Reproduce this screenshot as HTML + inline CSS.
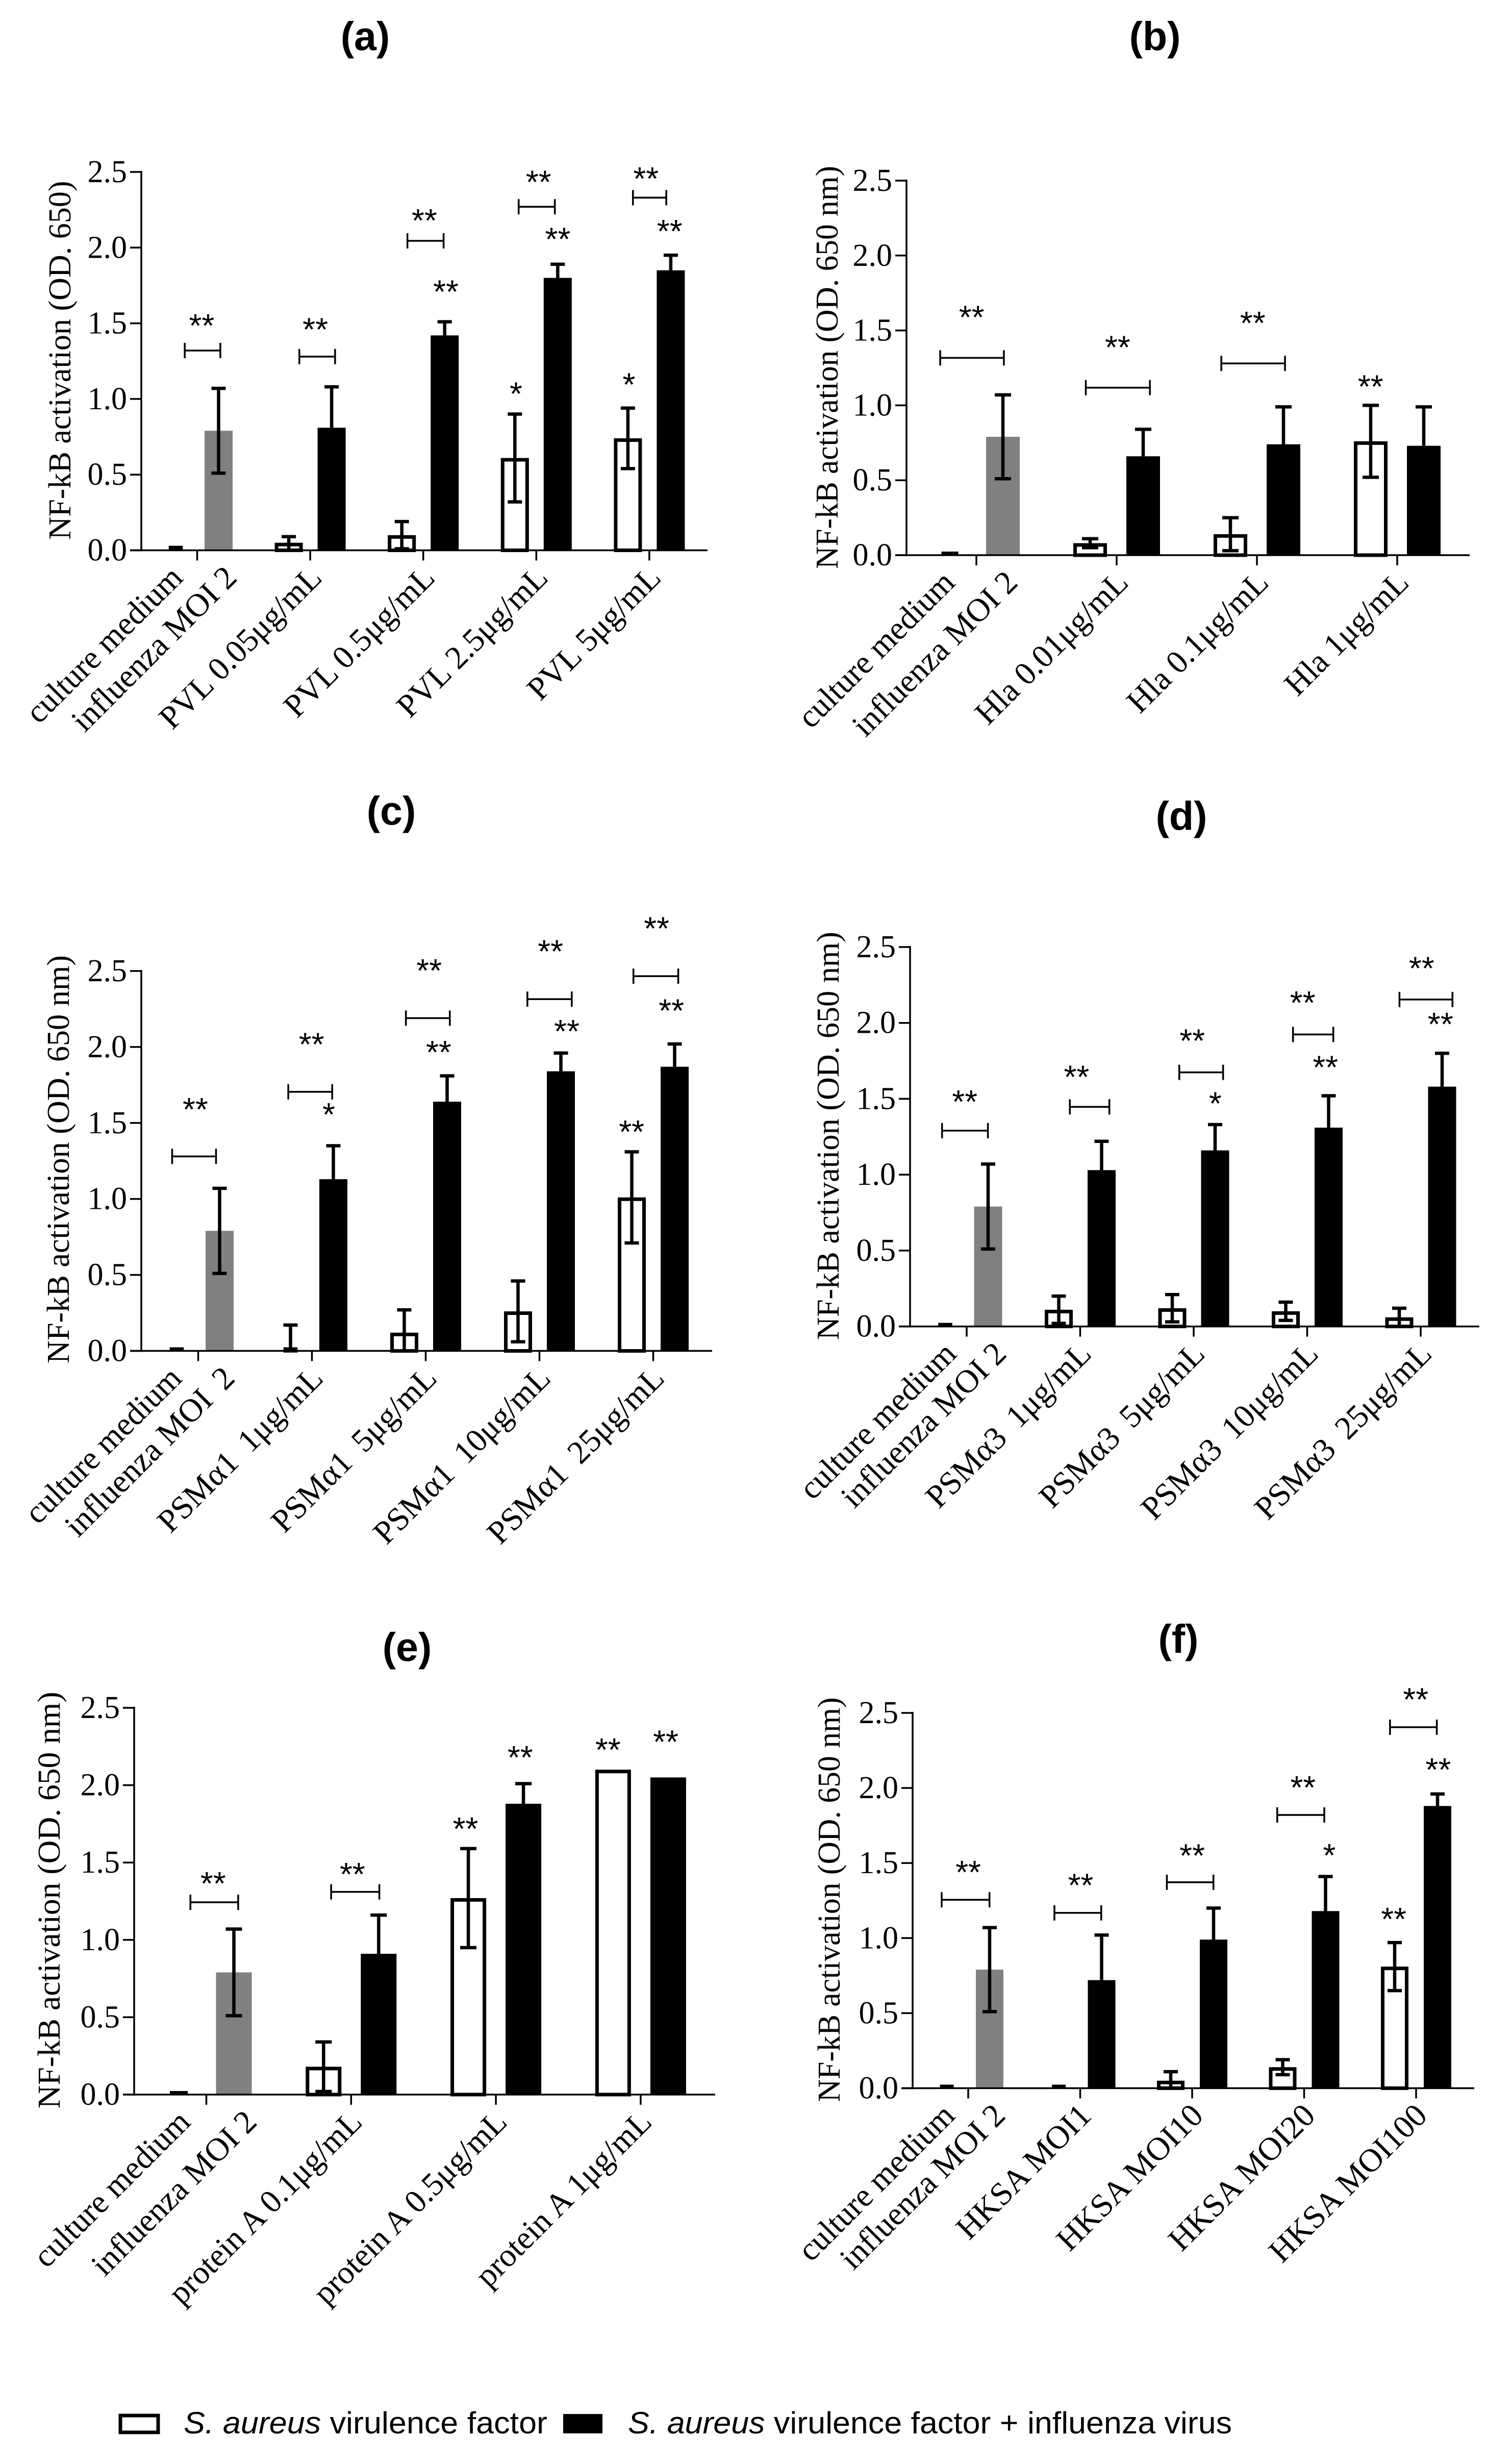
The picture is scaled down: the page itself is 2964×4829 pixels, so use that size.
<!DOCTYPE html>
<html lang="en">
<head>
<meta charset="utf-8">
<title>NF-kB activation by S. aureus virulence factors and influenza virus</title>
<style>
html,body{margin:0;padding:0;background:#fff;}
svg{display:block;}
</style>
</head>
<body>
<svg id="figure" xmlns="http://www.w3.org/2000/svg" width="2964" height="4829" viewBox="0 0 2964 4829"></svg>
<script>
// Shared axis ticks
const yTicks = [0, 0.5, 1.0, 1.5, 2.0, 2.5];
const yTickLabels = ['0.0', '0.5', '1.0', '1.5', '2.0', '2.5'];

// Panel (a)
const aLabels = ['culture medium', 'influenza MOI 2', 'PVL 0.05μg/mL', 'PVL 0.5μg/mL', 'PVL 2.5μg/mL', 'PVL 5μg/mL'];
const aWhite = [0.03, 0.05, 0.10, 0.61, 0.74];
const aWhiteLow = [null, 0.00, 0.01, 0.32, 0.54];
const aWhiteHigh = [null, 0.09, 0.19, 0.90, 0.94];
const aBlack = [0.79, 0.81, 1.42, 1.80, 1.85];
const aBlackLow = [0.51, null, null, null, null];
const aBlackHigh = [1.07, 1.08, 1.51, 1.89, 1.95];
const aBrackets = [[-0.11, 0.205, 1.32], [0.904, 1.22, 1.28], [1.86, 2.18, 2.045], [2.844, 3.164, 2.27], [3.855, 4.15, 2.33]];
const aStars = [[0.04, 1.516, '**'], [1.045, 1.49, '**'], [2.01, 2.21, '**'], [2.2, 1.74, '**'], [3.02, 2.465, '**'], [3.19, 2.087, '**'], [3.97, 2.487, '**'], [4.18, 2.14, '**'], [2.82, 1.065, '*'], [3.82, 1.126, '*']];

// Panel (b)
const bLabels = ['culture medium', 'influenza MOI 2', 'Hla 0.01μg/mL', 'Hla 0.1μg/mL', 'Hla 1μg/mL'];
const bWhite = [0.02, 0.08, 0.14, 0.76];
const bWhiteLow = [null, 0.05, 0.03, 0.52];
const bWhiteHigh = [null, 0.11, 0.25, 1.00];
const bBlack = [0.79, 0.66, 0.74, 0.73];
const bBlackLow = [0.51, null, null, null];
const bBlackHigh = [1.07, 0.84, 0.99, 0.99];
const bBrackets = [[-0.258, 0.196, 1.317], [0.78, 1.237, 1.118], [1.746, 2.2, 1.28]];
const bStars = [[-0.034, 1.62, '**'], [1.007, 1.418, '**'], [1.97, 1.58, '**'], [2.81, 1.157, '**']];

// Panel (c)
const cLabels = ['culture medium', 'influenza MOI\u00a0\u20092', 'PSMα1\u00a0\u20091μg/mL', 'PSMα1\u00a0\u20095μg/mL', 'PSMα1\u00a0\u200910μg/mL', 'PSMα1\u00a0\u200925μg/mL'];
const cWhite = [0.02, 0.00, 0.12, 0.26, 1.01];
const cWhiteLow = [null, 0.00, 0.00, 0.06, 0.71];
const cWhiteHigh = [null, 0.17, 0.27, 0.46, 1.31];
const cBlack = [0.79, 1.13, 1.64, 1.84, 1.87];
const cBlackLow = [0.51, null, null, null, null];
const cBlackHigh = [1.07, 1.35, 1.81, 1.96, 2.02];
const cBrackets = [[-0.229, 0.157, 1.28], [0.792, 1.178, 1.705], [1.826, 2.212, 2.19], [2.894, 3.284, 2.315], [3.826, 4.22, 2.466]];
const cStars = [[-0.025, 1.62, '**'], [0.996, 2.048, '**'], [1.148, 1.586, '*'], [2.03, 2.534, '**'], [2.114, 1.997, '**'], [3.097, 2.66, '**'], [3.24, 2.134, '**'], [4.03, 2.81, '**'], [4.16, 2.27, '**'], [3.81, 1.473, '**']];

// Panel (d)
const dLabels = ['culture medium', 'influenza MOI 2', 'PSMα3\u00a0\u20091μg/mL', 'PSMα3\u00a0\u20095μg/mL', 'PSMα3\u00a0\u200910μg/mL', 'PSMα3\u00a0\u200925μg/mL'];
const dWhite = [0.01, 0.11, 0.12, 0.10, 0.06];
const dWhiteLow = [null, 0.02, 0.03, 0.04, 0.00];
const dWhiteHigh = [null, 0.20, 0.21, 0.16, 0.12];
const dBlack = [0.79, 1.03, 1.16, 1.31, 1.58];
const dBlackLow = [0.51, null, null, null, null];
const dBlackHigh = [1.07, 1.22, 1.33, 1.52, 1.80];
const dBrackets = [[-0.217, 0.187, 1.29], [0.909, 1.257, 1.447], [1.873, 2.259, 1.674], [2.875, 3.23, 1.924], [3.813, 4.28, 2.154]];
const dStars = [[-0.017, 1.512, '**'], [0.968, 1.674, '**'], [1.987, 1.914, '**'], [2.19, 1.5, '*'], [2.96, 2.164, '**'], [3.16, 1.739, '**'], [4.008, 2.39, '**'], [4.174, 2.023, '**']];

// Panel (e)
const eLabels = ['culture medium', 'influenza MOI 2', 'protein A 0.1μg/mL', 'protein A 0.5μg/mL', 'protein A 1μg/mL'];
const eWhite = [0.02, 0.18, 1.27, 2.10];
const eWhiteLow = [null, 0.02, 0.95, null];
const eWhiteHigh = [null, 0.34, 1.59, null];
const eBlack = [0.79, 0.91, 1.88, 2.05];
const eBlackLow = [0.51, null, null, null];
const eBlackHigh = [1.07, 1.16, 2.01, null];
const eBrackets = [[-0.11, 0.22, 1.243], [0.862, 1.195, 1.31]];
const eStars = [[0.047, 1.395, '**'], [1.009, 1.455, '**'], [1.79, 1.748, '**'], [2.168, 2.21, '**'], [2.774, 2.26, '**'], [3.173, 2.31, '**']];

// Panel (f)
const fLabels = ['culture medium', 'influenza MOI 2', 'HKSA MOI1', 'HKSA MOI10', 'HKSA MOI20', 'HKSA MOI100'];
const fWhite = [0.01, 0.01, 0.05, 0.14, 0.81];
const fWhiteLow = [null, null, 0.00, 0.09, 0.65];
const fWhiteHigh = [null, null, 0.11, 0.19, 0.97];
const fBlack = [0.79, 0.72, 0.99, 1.18, 1.88];
const fBlackLow = [0.51, null, null, null, null];
const fBlackHigh = [1.07, 1.02, 1.20, 1.41, 1.96];
const fBrackets = [[-0.237, 0.19, 1.255], [0.77, 1.188, 1.168], [1.774, 2.19, 1.372], [2.76, 3.18, 1.82], [3.767, 4.185, 2.405]];
const fStars = [[0, 1.47, '**'], [1.004, 1.383, '**'], [2.0, 1.58, '**'], [2.99, 2.034, '**'], [3.225, 1.583, '*'], [3.996, 2.62, '**'], [4.198, 2.154, '**'], [3.8, 1.157, '**']];

const SVGNS = 'http://www.w3.org/2000/svg';
const figure = document.getElementById('figure');

function el(parent, tag, attrs, text) {
  const node = document.createElementNS(SVGNS, tag);
  for (const k in attrs) node.setAttribute(k, attrs[k]);
  if (text !== undefined) node.textContent = text;
  parent.appendChild(node);
  return node;
}

function drawPanel(p) {
  const g = el(figure, 'g', {});
  
  

  const xScale = function (v) { return p.tick0 + v * p.unit; };
  const yScale = function (v) { return p.base - v * (p.base - p.top) / 2.5; };

  const title = el(g, 'text', {x: p.titleX, y: p.titleY, 'text-anchor': 'middle', 'font-family': '"Liberation Sans", sans-serif', 'font-weight': 'bold', 'font-size': 79}, '(' + p.id + ')');
  
  

  const yTitle = el(g, 'text', {transform: 'translate(' + p.ytX + ' ' + p.ytY + ') rotate(-90)', 'text-anchor': 'middle', 'font-family': '"Liberation Serif", serif', 'font-size': 62, textLength: p.ytLen, lengthAdjust: 'spacingAndGlyphs'}, p.yTitle);
  
  

  // bars
  const count = p.white.length;
  for (let i = 0; i < count; i++) {
    const cx = xScale(i) - p.off;
    const v = p.white[i];
    if (v < 0.035) {
      const h = Math.max(yScale(0) - yScale(v), 7);
      const thin = el(g, 'rect', {x: cx - p.barW * 0.25, y: yScale(0) - h, width: p.barW * 0.5, height: h, fill: '#000'});
      
      
    } else {
      const box = el(g, 'rect', {x: cx - p.barW / 2 + 3.5, y: yScale(v) + 3.5, width: p.barW - 7, height: Math.max(yScale(0) - yScale(v) - 3.5, 1), fill: '#fff', stroke: '#000', 'stroke-width': 7});
      
      
    }
    const hi = p.whiteHigh[i];
    const lo = p.whiteLow[i];
    if (hi !== null) {
      drawError(g, cx, yScale(hi), yScale(lo === null ? v : lo), lo !== null, p.cap);
    }
  }
  for (let i = 0; i < count; i++) {
    const cx = xScale(i) + p.off;
    const v = p.black[i];
    const bar = el(g, 'rect', {x: cx - p.barW / 2, y: yScale(v), width: p.barW, height: yScale(0) - yScale(v), fill: i === 0 ? '#808080' : '#000'});
    
    
    const hi = p.blackHigh[i];
    const lo = p.blackLow[i];
    if (hi !== null) {
      drawError(g, cx, yScale(hi), yScale(lo === null ? v : lo), lo !== null, p.cap);
    }
  }

  // axes
  const yAxis = el(g, 'line', {x1: p.axisX, x2: p.axisX, y1: yScale(2.5) - 2, y2: yScale(0) + 2, stroke: '#000', 'stroke-width': 3.5});
  
  
  const xAxis = el(g, 'line', {x1: p.axisX - 22, x2: p.axisEnd, y1: yScale(0), y2: yScale(0), stroke: '#000', 'stroke-width': 3.5});
  
  

  yTicks.forEach(function (t, i) {
    const tick = el(g, 'line', {x1: p.axisX - 22, x2: p.axisX, y1: yScale(t), y2: yScale(t), stroke: '#000', 'stroke-width': 3.5});
    
    
    const lab = el(g, 'text', {x: p.axisX - 28, y: yScale(t) + 20, 'text-anchor': 'end', 'font-family': '"Liberation Serif", serif', 'font-size': 62}, yTickLabels[i]);
    
    
  });
  for (let i = 0; i < count; i++) {
    const tick = el(g, 'line', {x1: xScale(i), x2: xScale(i), y1: yScale(0), y2: yScale(0) + 20, stroke: '#000', 'stroke-width': 3.5});
    
    
  }

  // category labels
  p.labels.forEach(function (txt, i) {
    let ax;
    if (i === 0) ax = xScale(0) + p.labelOff[0];
    else if (i === 1) ax = xScale(0) + p.labelOff[1];
    else ax = xScale(i - 1) + p.labelOff[2];
    ax += 10;
    const ay = yScale(0) + 57;
    const lab = el(g, 'text', {transform: 'translate(' + ax + ' ' + ay + ') rotate(-45)', 'text-anchor': 'end', 'font-family': '"Liberation Serif", serif', 'font-size': 64}, txt);
    
    
  });

  // significance brackets
  p.brackets.forEach(function (b) {
    const x1 = xScale(b[0]);
    const x2 = xScale(b[1]);
    const y = yScale(b[2]);
    const d = 'M' + x1 + ' ' + (y - 15) + 'V' + (y + 15) + 'M' + x1 + ' ' + y + 'H' + x2 + 'M' + x2 + ' ' + (y - 15) + 'V' + (y + 15);
    const br = el(g, 'path', {d: d, fill: 'none', stroke: '#000', 'stroke-width': 3.5});
    
    
  });
  p.stars.forEach(function (s) {
    const st = el(g, 'text', {x: xScale(s[0]), y: yScale(s[1]) + 31, 'text-anchor': 'middle', 'font-family': '"Liberation Sans", sans-serif', 'font-size': 64}, s[2]);
    
    
  });
}

function drawError(parent, x, yHi, yLo, lowCap, cap) {
  let d = 'M' + x + ' ' + yHi + 'V' + yLo + 'M' + (x - cap) + ' ' + yHi + 'H' + (x + cap);
  if (lowCap) d += 'M' + (x - cap) + ' ' + yLo + 'H' + (x + cap);
  const eb = el(parent, 'path', {d: d, fill: 'none', stroke: '#000', 'stroke-width': 6.5});
  
  
}

const layout = [
  {id: 'a', labels: aLabels, white: aWhite, whiteLow: aWhiteLow, whiteHigh: aWhiteHigh, black: aBlack, blackLow: aBlackLow, blackHigh: aBlackHigh, brackets: aBrackets, stars: aStars,
   yTitle: 'NF-kB activation (OD. 650)', axisX: 277, axisEnd: 1387, top: 337, base: 1078.5, tick0: 386.5, unit: 221.6, off: 42, barW: 55, cap: 14, labelOff: [-35, 71, 16],
   titleX: 716, titleY: 98, ytX: 138, ytY: 706, ytLen: 703},
  {id: 'b', labels: bLabels, white: bWhite, whiteLow: bWhiteLow, whiteHigh: bWhiteHigh, black: bBlack, blackLow: bBlackLow, blackHigh: bBlackHigh, brackets: bBrackets, stars: bStars,
   yTitle: 'NF-kB activation (OD. 650 nm)', axisX: 1777, axisEnd: 2881, top: 354, base: 1088, tick0: 1914, unit: 275, off: 52, barW: 66, cap: 16, labelOff: [-49, 74, 16],
   titleX: 2264, titleY: 98, ytX: 1642, ytY: 720, ytLen: 790},
  {id: 'c', labels: cLabels, white: cWhite, whiteLow: cWhiteLow, whiteHigh: cWhiteHigh, black: cBlack, blackLow: cBlackLow, blackHigh: cBlackHigh, brackets: cBrackets, stars: cStars,
   yTitle: 'NF-kB activation (OD. 650 nm)', axisX: 277, axisEnd: 1396, top: 1903, base: 2647.5, tick0: 388.5, unit: 223, off: 42, barW: 55, cap: 14, labelOff: [-39, 65, 15],
   titleX: 767, titleY: 1616, ytX: 135, ytY: 2272, ytLen: 800},
  {id: 'd', labels: dLabels, white: dWhite, whiteLow: dWhiteLow, whiteHigh: dWhiteHigh, black: dBlack, blackLow: dBlackLow, blackHigh: dBlackHigh, brackets: dBrackets, stars: dStars,
   yTitle: 'NF-kB activation (OD. 650 nm)', axisX: 1784, axisEnd: 2900, top: 1856, base: 2599.6, tick0: 1895, unit: 222.5, off: 42, barW: 55, cap: 14, labelOff: [-27, 71, 15],
   titleX: 2316, titleY: 1626, ytX: 1644, ytY: 2226, ytLen: 800},
  {id: 'e', labels: eLabels, white: eWhite, whiteLow: eWhiteLow, whiteHigh: eWhiteHigh, black: eBlack, blackLow: eBlackLow, blackHigh: eBlackHigh, brackets: eBrackets, stars: eStars,
   yTitle: 'NF-kB activation (OD. 650 nm)', axisX: 263, axisEnd: 1402, top: 3347, base: 4105, tick0: 404.5, unit: 283.8, off: 54, barW: 70, cap: 16, labelOff: [-38, 92, 15],
   titleX: 798, titleY: 3255, ytX: 117, ytY: 3724, ytLen: 817},
  {id: 'f', labels: fLabels, white: fWhite, whiteLow: fWhiteLow, whiteHigh: fWhiteHigh, black: fBlack, blackLow: fBlackLow, blackHigh: fBlackHigh, brackets: fBrackets, stars: fStars,
   yTitle: 'NF-kB activation (OD. 650 nm)', axisX: 1789, axisEnd: 2890, top: 3357, base: 4092.5, tick0: 1898, unit: 219.5, off: 42, barW: 54, cap: 14, labelOff: [-33, 66, 15],
   titleX: 2310, titleY: 3239, ytX: 1646, ytY: 3723, ytLen: 793}
];
layout.forEach(drawPanel);

// Legend
const legend = el(figure, 'g', {});



const swatchWhite = el(legend, 'rect', {x: 236, y: 4734, width: 74, height: 33, fill: '#fff', stroke: '#000', 'stroke-width': 7});



const legendText1 = el(legend, 'text', {x: 360, y: 4769, 'font-family': '"Liberation Sans", sans-serif', 'font-size': 60, textLength: 713, lengthAdjust: 'spacingAndGlyphs'});


el(legendText1, 'tspan', {'font-style': 'italic'}, 'S. aureus');
el(legendText1, 'tspan', {}, ' virulence factor');

const swatchBlack = el(legend, 'rect', {x: 1104, y: 4731, width: 77, height: 38, fill: '#000'});



const legendText2 = el(legend, 'text', {x: 1231, y: 4769, 'font-family': '"Liberation Sans", sans-serif', 'font-size': 60, textLength: 1184, lengthAdjust: 'spacingAndGlyphs'});


el(legendText2, 'tspan', {'font-style': 'italic'}, 'S. aureus');
el(legendText2, 'tspan', {}, ' virulence factor + influenza virus');
</script>
</body>
</html>
